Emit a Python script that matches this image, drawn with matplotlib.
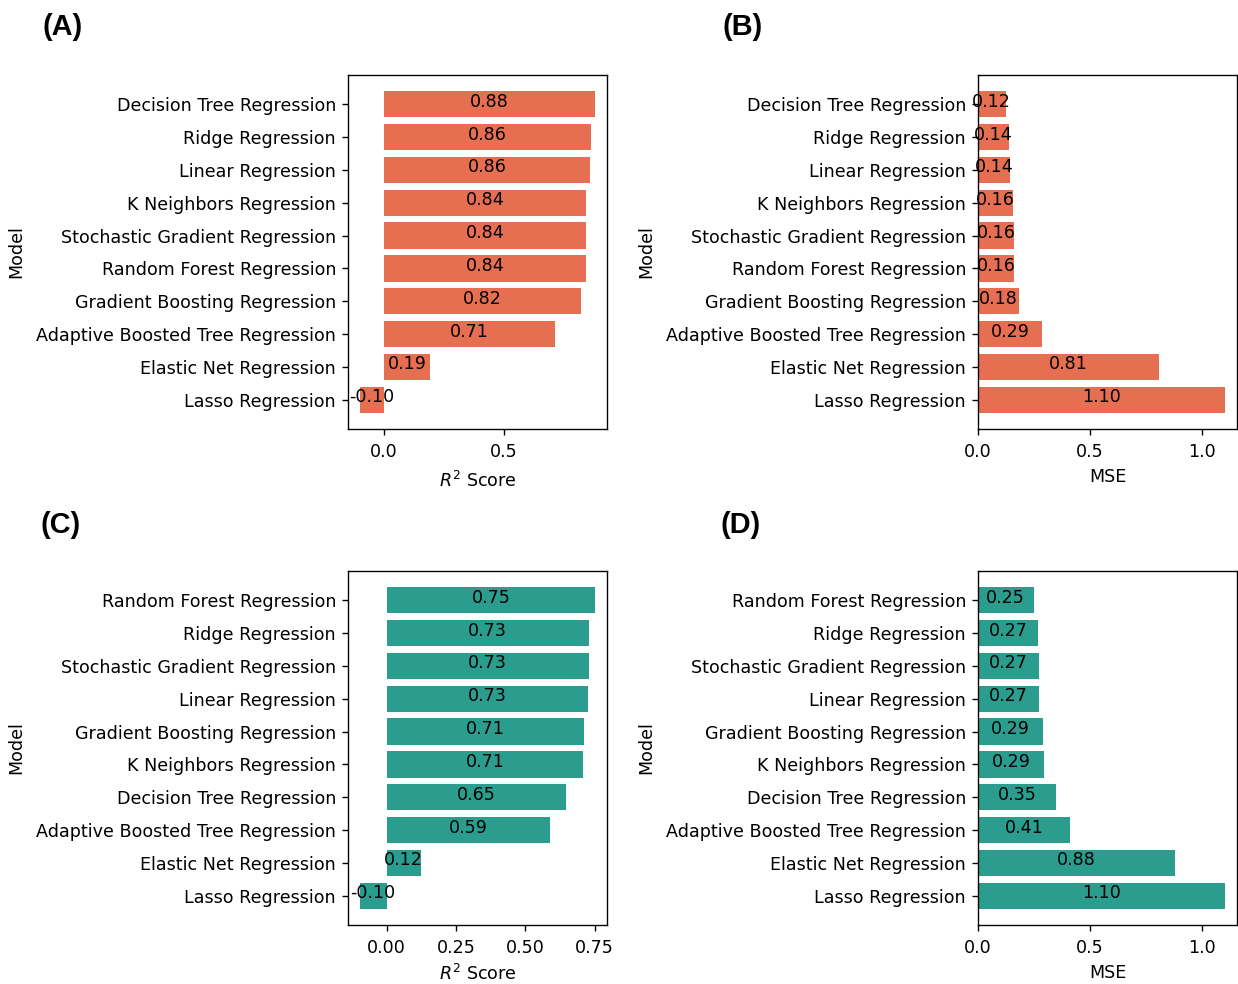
import matplotlib
matplotlib.use("Agg")
import matplotlib.pyplot as plt

# Panel A / B: first model set (R2 and MSE)
models_a = ["Decision Tree Regression", "Ridge Regression", "Linear Regression",
            "K Neighbors Regression", "Stochastic Gradient Regression",
            "Random Forest Regression", "Gradient Boosting Regression",
            "Adaptive Boosted Tree Regression", "Elastic Net Regression",
            "Lasso Regression"]
r2_a = [0.878, 0.862, 0.857, 0.840, 0.840, 0.840, 0.820, 0.709, 0.193, -0.10]
mse_a = [0.123, 0.138, 0.142, 0.157, 0.159, 0.159, 0.182, 0.287, 0.805, 1.10]

# Panel C / D: second model set
models_c = ["Random Forest Regression", "Ridge Regression",
            "Stochastic Gradient Regression", "Linear Regression",
            "Gradient Boosting Regression", "K Neighbors Regression",
            "Decision Tree Regression", "Adaptive Boosted Tree Regression",
            "Elastic Net Regression", "Lasso Regression"]
r2_c = [0.752, 0.729, 0.729, 0.726, 0.712, 0.708, 0.648, 0.590, 0.122, -0.097]
mse_c = [0.248, 0.266, 0.270, 0.272, 0.289, 0.293, 0.349, 0.412, 0.878, 1.10]

orange = "#E76F51"
teal = "#2A9D8F"

plt.rcParams["font.size"] = 10.25

W, H = 1238, 984
dpi = 123
fig = plt.figure(figsize=(W / dpi, H / dpi), dpi=dpi)


def panel(rect, models, values, color, xlabel, xticks, labelpad):
    ax = fig.add_axes(rect)
    pos = list(range(len(models)))
    ax.barh(pos, values, color=color, height=0.8)
    for i, v in zip(pos, values):
        ax.annotate(f"{v:.2f}", (v / 2, i), xytext=(0, 1.5), textcoords="offset points",
                    ha="center", va="center")
    ax.set_yticks(pos)
    ax.set_yticklabels(models)
    ax.invert_yaxis()
    ax.set_xticks(xticks)
    ax.tick_params(axis="x", pad=4.5)
    ax.set_xlabel(xlabel, labelpad=labelpad)
    ax.set_ylabel("Model")
    ax.yaxis.set_label_coords(-1.245, 0.5)
    return ax


axh = 354 / H
left1, left2 = 348 / W, 978 / W
w1, w2 = 259 / W, 259 / W
top_b, bot_b = (H - 429) / H, (H - 925) / H

panel([left1, top_b, w1, axh], models_a, r2_a, orange, "$R^2$ Score", [0.0, 0.5], 6)
panel([left2, top_b, w2, axh], models_a, mse_a, orange, "MSE", [0.0, 0.5, 1.0], 4)
panel([left1, bot_b, w1, axh], models_c, r2_c, teal, "$R^2$ Score", [0.0, 0.25, 0.5, 0.75], 4)
panel([left2, bot_b, w2, axh], models_c, mse_c, teal, "MSE", [0.0, 0.5, 1.0], 4)

lab = dict(fontsize=17, fontweight="bold", family="Liberation Sans", va="center")
fig.text(42 / W, 1 - 27 / H, "(A)", **lab)
fig.text(722 / W, 1 - 27 / H, "(B)", **lab)
fig.text(40 / W, 1 - 525 / H, "(C)", **lab)
fig.text(720 / W, 1 - 525 / H, "(D)", **lab)

fig.savefig("out.png", dpi=dpi)
